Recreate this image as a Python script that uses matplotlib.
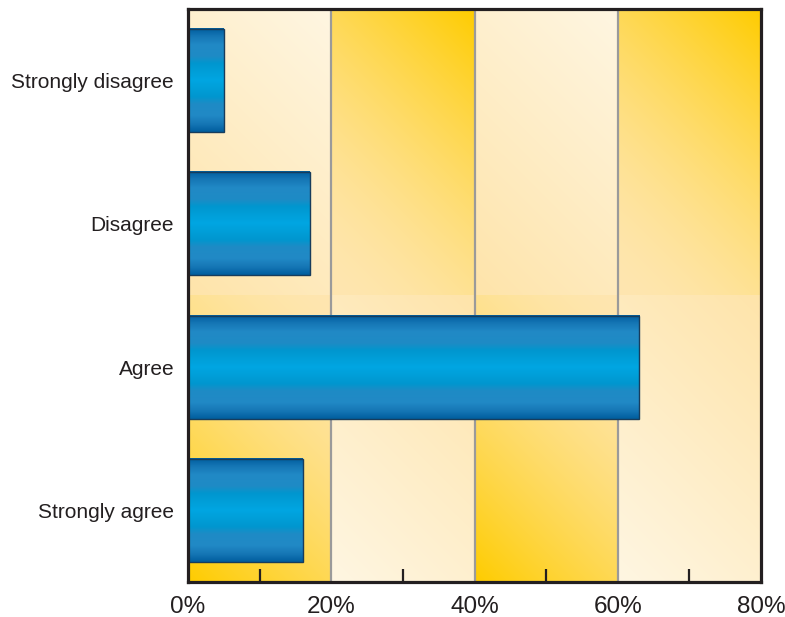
import numpy as np
import matplotlib.pyplot as plt
from matplotlib.colors import LinearSegmentedColormap, to_rgb
from matplotlib.patches import Rectangle

categories = ['Strongly disagree', 'Disagree', 'Agree', 'Strongly agree']
values = [5, 17, 63, 16]
xticks = [0, 20, 40, 60, 80]
xtick_labels = ['0%', '20%', '40%', '60%', '80%']
minor_ticks = [10, 30, 50, 70]

plt.rcParams['font.family'] = ['Liberation Sans', 'DejaVu Sans']

fig = plt.figure(figsize=(7.85, 6.17), dpi=100)
ax = fig.add_axes([188 / 785, 35 / 617, 573 / 785, 573 / 617])

ypos = np.arange(len(categories))[::-1]
ymin, ymax = -0.5, len(categories) - 0.5
ymid = (ymin + ymax) / 2


def cell(x0, x1, y0, y1, c_far, c_near, corner='tr', power=1.0):
    # diagonal gradient: c_near at the given corner, c_far at the opposite one
    u = np.linspace(0, 1, 96)
    s = u[None, :] / 3 + 2 * u[:, None] / 3
    if corner == 'bl':
        s = 1 - s
    s = s ** power
    a = np.array(to_rgb(c_far))
    b = np.array(to_rgb(c_near))
    img = a + (b - a) * s[..., None]
    ax.imshow(img, extent=(x0, x1, y0, y1), origin='lower', aspect='auto',
              interpolation='bilinear', zorder=0)


# checkerboard background
for i in range(4):
    x0, x1 = xticks[i], xticks[i + 1]
    if i % 2 == 0:
        cell(x0, x1, ymid, ymax, '#FEE4AA', '#FFF6E2', 'tr')
        cell(x0, x1, ymin, ymid, '#FEE6B0', '#FFCC00', 'bl', 1.6)
    else:
        cell(x0, x1, ymid, ymax, '#FEE6B0', '#FFCC00', 'tr', 1.6)
        cell(x0, x1, ymin, ymid, '#FEE4AA', '#FFF6E2', 'bl')

for x in xticks[1:-1]:
    ax.axvline(x, color='#9A9A9A', lw=1.6, zorder=1)

# bars with a cylinder-like gradient
bar_cmap = LinearSegmentedColormap.from_list('bar', [
    (0.0, '#005E9E'), (0.08, '#1677B6'), (0.16, '#2189C6'), (0.27, '#1E8BC5'),
    (0.34, '#0097CF'), (0.5, '#00A6E2'), (0.66, '#0097CF'), (0.73, '#1E8BC5'),
    (0.84, '#2189C6'), (0.92, '#1677B6'), (1.0, '#005E9E')])
grad = np.linspace(0, 1, 256).reshape(-1, 1)
h = 0.72
for y, val in zip(ypos, values):
    ax.imshow(grad, extent=(0, val, y - h / 2, y + h / 2), cmap=bar_cmap,
              origin='lower', aspect='auto', interpolation='bilinear', zorder=2)
    ax.add_patch(Rectangle((0, y - h / 2), val, h, fill=False,
                           ec='#173C5C', lw=1.0, zorder=3))

ax.set_xlim(0, 80)
ax.set_ylim(ymin, ymax)

for s in ax.spines.values():
    s.set_linewidth(2.3)
    s.set_color('#231F20')
    s.set_zorder(6)

ax.set_xticks(xticks)
ax.set_xticklabels(xtick_labels)
ax.set_xticks(minor_ticks, minor=True)
ax.tick_params(axis='x', which='major', length=0, pad=10, labelsize=17.5,
               labelcolor='#231F20')
ax.tick_params(axis='x', which='minor', direction='in', length=9.5, width=1.6,
               color='#231F20')
ax.set_yticks(ypos)
ax.set_yticklabels(categories, va='center_baseline')
ax.tick_params(axis='y', length=0, pad=10, labelsize=15, labelcolor='#231F20')
ax.xaxis.set_zorder(5)

fig.savefig('out.png', dpi=100)
